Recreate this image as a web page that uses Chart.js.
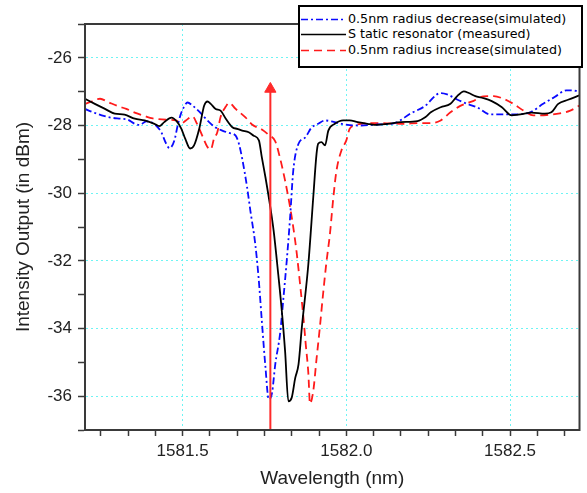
<!DOCTYPE html>
<html><head><meta charset="utf-8">
<script src="https://cdn.jsdelivr.net/npm/chart.js@4.4.1/dist/chart.umd.min.js"></script>
<style>
html,body{margin:0;padding:0;background:#fff;}
#wrap{position:relative;width:587px;height:493px;overflow:hidden;}
#legend{position:absolute;left:298px;top:5px;width:281px;height:59px;border:2px solid #000;background:#fff;font-family:'DejaVu Sans',sans-serif;font-size:12.7px;color:#000;}
.row{position:absolute;left:0;width:281px;height:16px;line-height:16px;white-space:nowrap;}
.row svg{position:absolute;left:1px;top:0;}
.row span{position:absolute;left:48px;top:0;}
</style></head>
<body><div id="wrap"><canvas id="c" width="587" height="493"></canvas><div id="legend"></div></div>
<script>
// ---- data (wavelength in nm, intensity in dBm) ----
const seriesLabels = ['0.5nm radius decrease(simulated)', 'S tatic resonator (measured)', '0.5nm radius increase(simulated)'];

const blueX = [1581.202,1581.227,1581.253,1581.283,1581.313,1581.333,1581.354,1581.369,1581.389,1581.404,1581.419,1581.435,1581.450,1581.460,1581.475,1581.485,1581.495,1581.505,1581.515,1581.530,1581.551,1581.566,1581.581,1581.601,1581.621,1581.642,1581.662,1581.672,1581.682,1581.697,1581.707,1581.722,1581.732,1581.742,1581.753,1581.763,1581.773,1581.783,1581.798,1581.808,1581.818,1581.828,1581.838,1581.854,1581.874,1581.894,1581.914,1581.935,1581.955,1581.985,1582.010,1582.045,1582.096,1582.147,1582.197,1582.238,1582.288,1582.308,1582.338,1582.369,1582.399,1582.439,1582.480,1582.520,1582.561,1582.601,1582.636,1582.672,1582.702,1582.712];
const blueY = [-27.51,-27.61,-27.70,-27.77,-27.80,-27.83,-27.95,-27.98,-27.88,-27.90,-28.00,-28.20,-28.54,-28.67,-28.44,-28.00,-27.65,-27.44,-27.32,-27.41,-27.59,-27.75,-27.90,-28.06,-28.15,-28.22,-28.30,-28.54,-28.98,-29.83,-30.52,-31.51,-32.49,-33.78,-35.14,-36.09,-35.91,-35.06,-34.13,-33.09,-32.00,-30.76,-29.33,-28.54,-28.36,-28.06,-27.95,-27.85,-27.88,-27.95,-27.99,-28.00,-27.97,-27.93,-27.64,-27.44,-27.04,-27.08,-27.23,-27.36,-27.46,-27.67,-27.67,-27.67,-27.61,-27.36,-27.16,-26.96,-26.98,-27.01];

const blackX = [1581.202,1581.232,1581.263,1581.293,1581.323,1581.354,1581.384,1581.414,1581.429,1581.444,1581.466,1581.484,1581.496,1581.508,1581.523,1581.535,1581.551,1581.566,1581.576,1581.586,1581.601,1581.616,1581.632,1581.652,1581.667,1581.682,1581.702,1581.717,1581.733,1581.742,1581.753,1581.768,1581.778,1581.792,1581.803,1581.813,1581.823,1581.833,1581.844,1581.854,1581.864,1581.884,1581.899,1581.909,1581.914,1581.924,1581.935,1581.945,1581.965,1581.990,1582.010,1582.035,1582.065,1582.086,1582.126,1582.167,1582.217,1582.242,1582.258,1582.288,1582.318,1582.338,1582.359,1582.374,1582.394,1582.414,1582.444,1582.475,1582.505,1582.525,1582.566,1582.606,1582.626,1582.647,1582.677,1582.712];
const blackY = [-27.21,-27.36,-27.51,-27.65,-27.68,-27.80,-27.85,-27.95,-28.02,-27.90,-27.77,-27.90,-28.09,-28.39,-28.68,-28.59,-28.09,-27.41,-27.29,-27.36,-27.51,-27.56,-27.80,-28.05,-28.10,-28.15,-28.20,-28.30,-28.44,-28.94,-29.53,-30.42,-31.11,-32.39,-33.48,-34.67,-36.15,-36.05,-35.46,-35.06,-33.98,-32.10,-30.12,-28.84,-28.54,-28.49,-28.59,-28.15,-27.95,-27.85,-27.85,-27.90,-27.95,-27.98,-27.95,-27.90,-27.87,-27.75,-27.61,-27.46,-27.36,-27.14,-26.99,-27.04,-27.13,-27.18,-27.28,-27.46,-27.70,-27.68,-27.62,-27.65,-27.61,-27.36,-27.24,-27.11];

const redX = [1581.202,1581.222,1581.248,1581.273,1581.303,1581.328,1581.354,1581.384,1581.409,1581.450,1581.480,1581.495,1581.510,1581.530,1581.545,1581.560,1581.575,1581.586,1581.596,1581.606,1581.616,1581.632,1581.642,1581.662,1581.692,1581.712,1581.742,1581.763,1581.783,1581.798,1581.813,1581.828,1581.838,1581.848,1581.859,1581.869,1581.876,1581.884,1581.889,1581.899,1581.909,1581.919,1581.929,1581.939,1581.950,1581.960,1581.970,1581.985,1582.000,1582.010,1582.025,1582.045,1582.096,1582.136,1582.177,1582.217,1582.258,1582.288,1582.318,1582.348,1582.389,1582.419,1582.450,1582.480,1582.510,1582.541,1582.571,1582.611,1582.652,1582.682,1582.712];
const redY = [-27.36,-27.29,-27.21,-27.31,-27.43,-27.51,-27.62,-27.72,-27.79,-27.83,-27.85,-27.95,-27.85,-27.73,-27.97,-28.30,-28.62,-28.71,-28.39,-28.20,-27.75,-27.44,-27.33,-27.51,-27.76,-27.97,-28.12,-28.28,-28.47,-28.98,-29.63,-30.40,-31.01,-31.73,-32.71,-33.68,-34.46,-35.32,-36.22,-35.85,-34.90,-33.98,-32.98,-32.06,-31.20,-30.16,-29.33,-28.74,-28.44,-28.10,-28.00,-27.95,-27.93,-27.94,-27.95,-27.93,-27.93,-27.85,-27.61,-27.42,-27.27,-27.14,-27.13,-27.21,-27.36,-27.56,-27.70,-27.69,-27.64,-27.57,-27.41];

// vertical marker arrow (wavelength, from bottom to arrow head)
const arrowX = [1581.768, 1581.768];
const arrowY = [-37, -26.92];

// axes
const xMin = 1581.202, xMax = 1582.712;
const xMajorTicks = [1581.5, 1582.0, 1582.5];
const xTickLabels = ['1581.5', '1582.0', '1582.5'];
const xMinorPerMajor = 6;
const yMin = -37, yMax = -25;
const yMajorTicks = [-36, -34, -32, -30, -28, -26];
const yTickLabels = ['-36', '-34', '-32', '-30', '-28', '-26'];

// ---- build ----
function zip(xs, ys) { const n = Math.min(xs.length, ys.length); const o = []; for (let i = 0; i < n; i++) o.push({x: xs[i], y: ys[i]}); return o; }
const BLUE = '#0a0aff', BLACK = '#000000', RED = '#ff1a1a', ARROW = '#ff2a2a';
const GRID = '#6ef4f4', AXIS = '#3a3a3a';
const near = (a, b) => Math.abs(a - b) < 1e-6;

const frame = {
  id: 'frame',
  afterDraw(chart) {
    const {ctx, chartArea: a} = chart;
    ctx.save(); ctx.strokeStyle = AXIS; ctx.lineWidth = 2;
    ctx.strokeRect(a.left, a.top, a.right - a.left, a.bottom - a.top);
    ctx.restore();
  }
};

const tickFont = {family: "'Liberation Sans', Arial, sans-serif", size: 17};
const titleFont = {family: "'Liberation Sans', Arial, sans-serif", size: 19};

new Chart(document.getElementById('c'), {
  type: 'line',
  data: {
    datasets: [
      {label: 'arrow', data: zip(arrowX, arrowY), borderColor: ARROW, backgroundColor: ARROW, borderWidth: 2, tension: 0,
       pointRadius: [0, 6.5], pointStyle: 'triangle', pointBackgroundColor: ARROW, pointBorderColor: ARROW, pointBorderWidth: 1, order: 0},
      {label: seriesLabels[0], data: zip(blueX, blueY), borderColor: BLUE, borderWidth: 1.8, borderDash: [7, 3, 2, 3], pointRadius: 0, cubicInterpolationMode: 'monotone', order: 2},
      {label: seriesLabels[1], data: zip(blackX, blackY), borderColor: BLACK, borderWidth: 1.8, pointRadius: 0, cubicInterpolationMode: 'monotone', order: 1},
      {label: seriesLabels[2], data: zip(redX, redY), borderColor: RED, borderWidth: 1.8, borderDash: [8, 5], pointRadius: 0, cubicInterpolationMode: 'monotone', order: 3}
    ]
  },
  options: {
    responsive: false, animation: false, devicePixelRatio: 1,
    layout: {padding: {left: 0, top: 24, right: 4, bottom: 0}},
    plugins: {legend: {display: false}, tooltip: {enabled: false}},
    scales: {
      x: {
        type: 'linear', min: xMin, max: xMax,
        afterFit(s) { s.height = 63; },
        afterBuildTicks(s) {
          const step = (xMajorTicks[1] - xMajorTicks[0]) / xMinorPerMajor;
          const t = [];
          const k0 = Math.ceil((xMin - xMajorTicks[0]) / step - 1e-9), k1 = Math.floor((xMax - xMajorTicks[0]) / step + 1e-9);
          for (let k = k0; k <= k1; k++) t.push({value: xMajorTicks[0] + k * step});
          s.ticks = t;
        },
        ticks: {autoSkip: false, maxRotation: 0, padding: 5, color: '#222', font: tickFont,
          callback(v) { const i = xMajorTicks.findIndex(m => near(m, v)); return i >= 0 ? xTickLabels[i] : ''; }},
        grid: {drawOnChartArea: true, tickLength: 6, tickWidth: 1.5, tickColor: AXIS, lineWidth: 1,
          color: (c) => (c.tick && xMajorTicks.some(m => near(m, c.tick.value))) ? GRID : 'rgba(0,0,0,0)'},
        border: {display: true, color: AXIS, width: 2, dash: [2, 3]},
        title: {display: true, text: 'Wavelength (nm)', color: '#222', font: titleFont, padding: {top: 0, bottom: 3}}
      },
      y: {
        type: 'linear', min: yMin, max: yMax,
        afterFit(s) { s.width = 85; },
        afterBuildTicks(s) { const t = []; for (let v = yMin; v <= yMax; v++) t.push({value: v}); s.ticks = t; },
        ticks: {autoSkip: false, padding: 6, color: '#222', font: tickFont,
          callback(v) { const i = yMajorTicks.findIndex(m => near(m, v)); return i >= 0 ? yTickLabels[i] : ''; }},
        grid: {drawOnChartArea: true, tickLength: 7, tickWidth: 1.5, tickColor: AXIS, lineWidth: 1,
          color: (c) => (c.tick && yMajorTicks.some(m => near(m, c.tick.value))) ? GRID : 'rgba(0,0,0,0)'},
        border: {display: true, color: AXIS, width: 2, dash: [2, 3]},
        title: {display: true, text: 'Intensity Output (in dBm)', color: '#222', font: titleFont, padding: {top: 12, bottom: 0}}
      }
    }
  },
  plugins: [frame]
});

// ---- legend (HTML, built from dataset labels) ----
const legendStyles = [
  {color: BLUE, dash: '7,3,2,3'},
  {color: BLACK, dash: ''},
  {color: RED, dash: '8,5'}
];
const rowTops = [4, 19, 35];
const lg = document.getElementById('legend');
seriesLabels.forEach((lab, i) => {
  const r = document.createElement('div'); r.className = 'row'; r.style.top = rowTops[i] + 'px';
  const st = legendStyles[i];
  r.innerHTML = '<svg width="46" height="16"><line x1="0" y1="8.5" x2="45" y2="8.5" stroke="' + st.color + '" stroke-width="1.6"' +
    (st.dash ? ' stroke-dasharray="' + st.dash + '"' : '') + '/></svg>';
  const sp = document.createElement('span'); sp.textContent = lab; r.appendChild(sp);
  lg.appendChild(r);
});
</script>
</body></html>
